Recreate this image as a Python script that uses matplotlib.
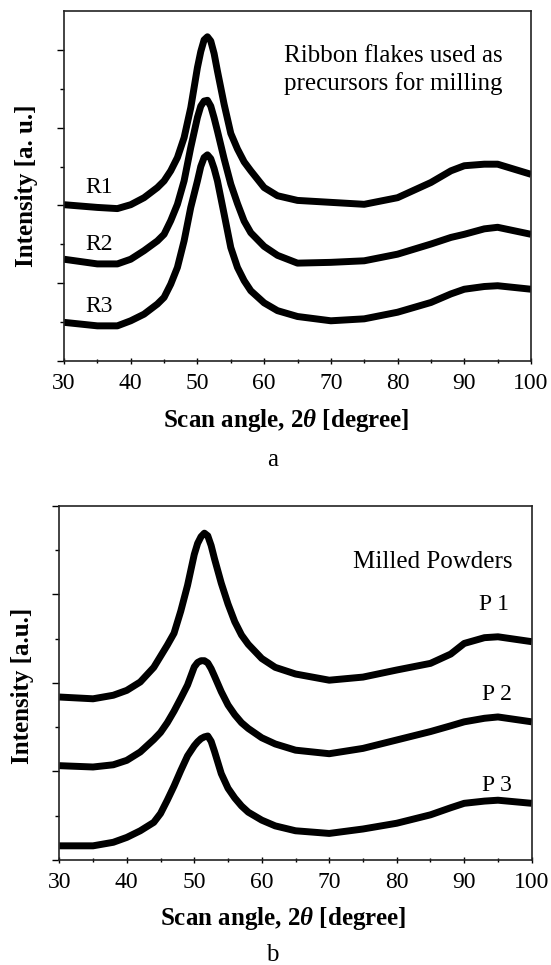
import numpy as np
import matplotlib
matplotlib.use('Agg')
import matplotlib.pyplot as plt
from matplotlib.ticker import FixedLocator

plt.rcParams['font.family'] = ['Liberation Serif', 'DejaVu Serif']
plt.rcParams['mathtext.fontset'] = 'custom'
plt.rcParams['mathtext.rm'] = 'Liberation Serif:bold'
plt.rcParams['mathtext.it'] = 'Liberation Serif:italic:bold'
plt.rcParams['mathtext.bf'] = 'Liberation Serif:bold'

# scan angle grid (2 theta, degrees)
angle = [30, 35, 38, 40, 42, 44, 45, 46, 47, 48, 49,
         50, 50.5, 51, 51.5, 52, 52.5, 53,
         54, 55, 56, 57, 58,
         60, 62, 65, 70, 75, 80, 85, 88, 90, 93, 95, 100]

# panel a - ribbon flakes (stacked, arbitrary units)
r1 = [4.02, 3.95, 3.92, 4.02, 4.20, 4.46, 4.63, 4.89, 5.23, 5.74, 6.51,
      7.54, 7.95, 8.25, 8.33, 8.22, 7.90, 7.45,
      6.60, 5.85, 5.45, 5.12, 4.89,
      4.46, 4.25, 4.13, 4.08, 4.03, 4.20, 4.59, 4.89, 5.02, 5.06, 5.06, 4.80]
r2 = [2.62, 2.50, 2.50, 2.62, 2.84, 3.09, 3.26, 3.61, 4.03, 4.63, 5.49,
      6.26, 6.55, 6.68, 6.70, 6.55, 6.25, 5.91,
      5.20, 4.55, 4.05, 3.60, 3.30,
      2.95, 2.72, 2.52, 2.54, 2.58, 2.75, 3.01, 3.18, 3.26, 3.40, 3.44, 3.26]
r3 = [1.00, 0.91, 0.91, 1.04, 1.21, 1.47, 1.64, 1.98, 2.41, 3.09, 3.95,
      4.63, 5.00, 5.23, 5.30, 5.20, 4.95, 4.63,
      3.78, 2.92, 2.41, 2.07, 1.81,
      1.50, 1.30, 1.15, 1.04, 1.09, 1.26, 1.51, 1.73, 1.85, 1.92, 1.94, 1.85]

# panel b - milled powders
p1 = [3.68, 3.64, 3.72, 3.83, 4.02, 4.35, 4.60, 4.85, 5.12, 5.62, 6.20,
      6.90, 7.15, 7.30, 7.38, 7.32, 7.10, 6.80,
      6.25, 5.78, 5.38, 5.08, 4.87,
      4.55, 4.35, 4.20, 4.06, 4.13, 4.29, 4.44, 4.65, 4.89, 5.02, 5.04, 4.93]
p2 = [2.13, 2.10, 2.15, 2.25, 2.44, 2.72, 2.88, 3.10, 3.36, 3.65, 3.95,
      4.36, 4.46, 4.50, 4.50, 4.45, 4.32, 4.15,
      3.80, 3.50, 3.28, 3.10, 2.97,
      2.76, 2.62, 2.48, 2.40, 2.52, 2.71, 2.90, 3.03, 3.12, 3.20, 3.23, 3.12]
p3 = [0.32, 0.32, 0.40, 0.51, 0.66, 0.85, 1.05, 1.35, 1.67, 2.02, 2.35,
      2.58, 2.67, 2.74, 2.78, 2.80, 2.68, 2.45,
      1.95, 1.62, 1.40, 1.22, 1.08,
      0.90, 0.77, 0.66, 0.60, 0.70, 0.83, 1.02, 1.18, 1.28, 1.33, 1.35, 1.28]

labels_a = ['R1', 'R2', 'R3']
labels_b = ['P 1', 'P 2', 'P 3']
xticks = [30, 40, 50, 60, 70, 80, 90, 100]

W, H = 551, 965


def fx(px):
    return px / W


def fy(py):
    return 1 - py / H


fig = plt.figure(figsize=(W / 100, H / 100), dpi=100)
ax_a = fig.add_axes([fx(64), fy(361.3), fx(531) - fx(64), fy(10.7) - fy(361.3)])
ax_b = fig.add_axes([fx(59.3), fy(860), fx(531.7) - fx(59.3), fy(505.7) - fy(860)])


def style_axes(ax, ytop):
    ax.set_xlim(30, 100)
    ax.set_ylim(0, ytop)
    ax.xaxis.set_major_locator(FixedLocator(xticks))
    ax.xaxis.set_minor_locator(FixedLocator([35, 45, 55, 65, 75, 85, 95]))
    ax.yaxis.set_major_locator(FixedLocator([0, 2, 4, 6, 8]))
    ax.yaxis.set_minor_locator(FixedLocator([1, 3, 5, 7]))
    ax.set_yticklabels([])
    ax.tick_params(axis='x', which='major', direction='inout', length=4.5, width=1,
                   labelsize=17, pad=6.5)
    ax.tick_params(axis='x', which='minor', direction='inout', length=3.5, width=1)
    ax.tick_params(axis='y', which='major', direction='out', length=5, width=1)
    ax.tick_params(axis='y', which='minor', direction='out', length=2.7, width=1)
    for sp in ax.spines.values():
        sp.set_linewidth(1.2)
        sp.set_color('#222222')


for ys in (r1, r2, r3):
    ax_a.plot(angle, ys, color='black', linewidth=5, solid_joinstyle='round',
              solid_capstyle='butt')
style_axes(ax_a, 9)

for ys in (p1, p2, p3):
    ax_b.plot(angle, ys, color='black', linewidth=5, solid_joinstyle='round',
              solid_capstyle='butt')
style_axes(ax_b, 8)

# axis labels
xlab = r'Scan angle, $\mathit{2}\theta$ [degree]'
fig.text(fx(286), fy(427), xlab, ha='center', va='baseline', fontsize=18,
         fontweight='bold')
fig.text(fx(283), fy(925), xlab, ha='center', va='baseline', fontsize=18,
         fontweight='bold')
fig.text(fx(27), fy(186), 'Intensity [a. u.]', rotation=90, ha='center', va='center',
         fontsize=18, fontweight='bold')
fig.text(fx(23), fy(686), 'Intensity [a.u.]', rotation=90, ha='center', va='center',
         fontsize=18, fontweight='bold')

# panel captions
fig.text(fx(272.7), fy(465.5), 'a', ha='center', va='baseline', fontsize=18)
fig.text(fx(272.7), fy(961), 'b', ha='center', va='baseline', fontsize=18)

# annotations
fig.text(fx(283.5), fy(62), 'Ribbon flakes used as', ha='left', va='baseline', fontsize=18)
fig.text(fx(283.5), fy(90), 'precursors for milling', ha='left', va='baseline', fontsize=18)
fig.text(fx(353.3), fy(568.3), 'Milled Powders', ha='left', va='baseline', fontsize=18)

for lab, base in zip(labels_a, [193, 250, 312]):
    fig.text(fx(85), fy(base), lab, ha='left', va='baseline', fontsize=17)
for lab, (xl, base) in zip(labels_b, [(479.3, 609.5), (481.7, 699.5), (481.7, 791)]):
    fig.text(fx(xl), fy(base), lab, ha='left', va='baseline', fontsize=17)

fig.savefig('out.png', dpi=100)
